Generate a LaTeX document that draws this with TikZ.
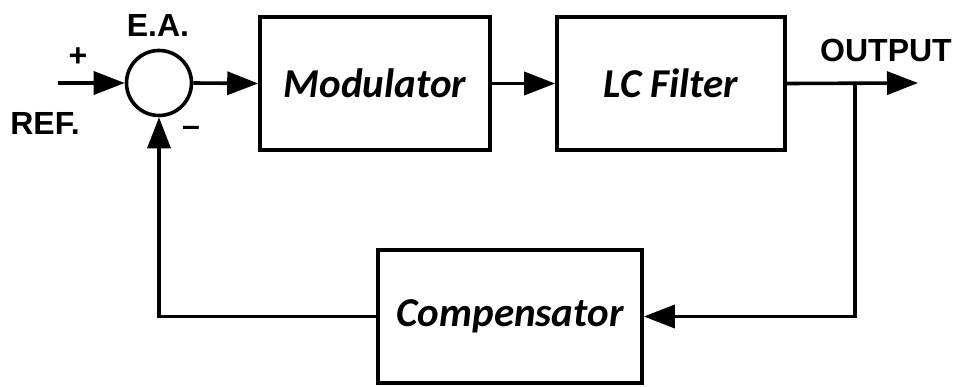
\documentclass[tikz,border=0pt]{standalone}
\usepackage{fontspec}
\setmainfont{Liberation Sans}
\newfontfamily\boxfont{Carlito}
\usetikzlibrary{arrows.meta}
\begin{document}
\begin{tikzpicture}[x=1pt,y=-1pt,
  line width=3.6pt,
  blk/.style={draw, rectangle, inner sep=0pt, font=\boxfont\bfseries\itshape\fontsize{41}{46}\selectfont},
  sumc/.style={draw, circle, inner sep=0pt, minimum size=65pt},
  lbl/.style={inner sep=0pt, font=\bfseries\fontsize{32}{37}\selectfont},
  arr/.style={-{Triangle[length=31pt,width=23pt]}}]
\useasboundingbox (0,0) rectangle (957,387);
\node[sumc] (sum) at (159,83) {};
\node[blk, minimum width=230pt, minimum height=133pt] (mod) at (375,83.5) {Modulator};
\node[blk, minimum width=228pt, minimum height=133pt] (lc) at (671,83.5) {LC Filter};
\node[blk, minimum width=264pt, minimum height=133pt] (comp) at (510,316.5) {Compensator};
\coordinate (in) at (58,83);
\coordinate (out) at (918,83);
\coordinate (br) at (855,83);
\node[lbl] (plus) at (78,57) {+};
\node[lbl] (ea) at (158,25) {E.A.};
\node[lbl] (ref) at (45,123) {REF.};
\node[lbl] (minus) at (191,131) {–};
\node[lbl] (outl) at (886,50) {OUTPUT};
\draw[arr] (in) -- (sum.west);
\draw[arr] (sum.east) -- (mod.west);
\draw[arr] (mod.east) -- (lc.west);
\draw[arr] (lc.east) -- (out);
\draw[arr] (br) |- (comp.east);
\draw[arr] (comp.west) -| (sum.south);
\end{tikzpicture}
\end{document}
